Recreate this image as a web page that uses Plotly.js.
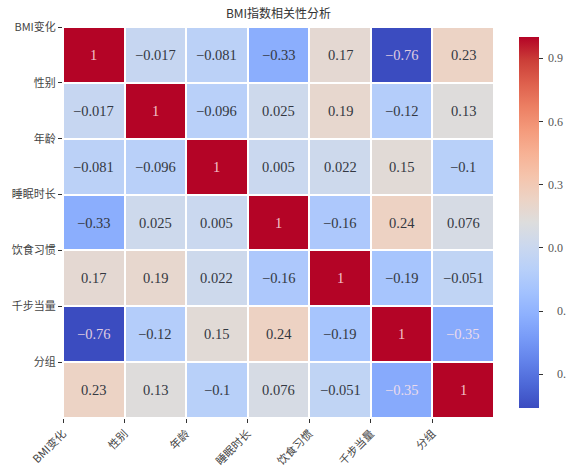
<!DOCTYPE html>
<html>
<head>
<meta charset="utf-8">
<script src="https://cdn.plot.ly/plotly-3.0.1.min.js"></script>
<style>
  html, body { margin: 0; padding: 0; background: #fff; }
  #chart { width: 567px; height: 468px; }
</style>
</head>
<body>
<div id="chart"></div>
<script>
// Variables in the correlation matrix
const labels = ['BMI变化', '性别', '年龄', '睡眠时长', '饮食习惯', '千步当量', '分组'];

// Pairwise correlation coefficients, one row per variable
const rowBMI    = [1, -0.017, -0.081, -0.33, 0.17, -0.76, 0.23];
const rowSex    = [-0.017, 1, -0.096, 0.025, 0.19, -0.12, 0.13];
const rowAge    = [-0.081, -0.096, 1, 0.005, 0.022, 0.15, -0.1];
const rowSleep  = [-0.33, 0.025, 0.005, 1, -0.16, 0.24, 0.076];
const rowDiet   = [0.17, 0.19, 0.022, -0.16, 1, -0.19, -0.051];
const rowSteps  = [-0.76, -0.12, 0.15, 0.24, -0.19, 1, -0.35];
const rowGroup  = [0.23, 0.13, -0.1, 0.076, -0.051, -0.35, 1];

// Colour bar tick values and their printed labels (negative ones lose their sign glyph)
const cbTickVals = [0.9, 0.6, 0.3, 0.0, -0.3, -0.6];
const cbTickText = ['\u00a00.9', '\u00a00.6', '\u00a00.3', '\u00a00.0',
  '\u00a0\u00a0\u00a0\u00a00.', '\u00a0\u00a0\u00a0\u00a00.'];

const z = [rowBMI, rowSex, rowAge, rowSleep, rowDiet, rowSteps, rowGroup];
const n = labels.length;
const idx = labels.map((_, i) => i);

// Diverging cool-warm palette
const coolwarm = ['#3b4cc0', '#4d68d7', '#6282ea', '#779af7', '#8db0fe', '#a3c2fe',
  '#b8d0f9', '#cbd8ee', '#dddddd', '#ecd3c5', '#f5c4ac', '#f7b194', '#f49a7b',
  '#ec7f63', '#de604d', '#cb3e38', '#b40426'];
const colorscale = coolwarm.map((c, i) => [i / (coolwarm.length - 1), c]);

const flat = z.flat();
const zmin = Math.min(...flat);
const zmax = Math.max(...flat);

function hexToRgb(h) {
  return [1, 3, 5].map(k => parseInt(h.slice(k, k + 2), 16));
}
function colourAt(v) {
  const t = (v - zmin) / (zmax - zmin);
  const p = t * (coolwarm.length - 1);
  const i = Math.min(Math.floor(p), coolwarm.length - 2);
  const f = p - i;
  const a = hexToRgb(coolwarm[i]), b = hexToRgb(coolwarm[i + 1]);
  return a.map((x, k) => x + (b[k] - x) * f);
}
function luminance(rgb) {
  const lin = rgb.map(c => {
    c /= 255;
    return c <= 0.03928 ? c / 12.92 : Math.pow((c + 0.055) / 1.055, 2.4);
  });
  return 0.2126 * lin[0] + 0.7152 * lin[1] + 0.0722 * lin[2];
}
function fmt(v) {
  return String(v).replace('-', '\u2212');
}

// Value labels inside each cell, light on dark cells, dark on light ones
const annotations = [];
z.forEach((row, r) => {
  row.forEach((v, c) => {
    const dark = luminance(colourAt(v)) < 0.415;
    annotations.push({
      x: c, y: r, xref: 'x', yref: 'y',
      text: fmt(v), showarrow: false,
      font: {
        family: '"Liberation Serif", "DejaVu Serif", serif',
        size: 14.5,
        color: dark ? 'rgba(255,228,232,0.85)' : '#333842'
      }
    });
  });
});

const trace = {
  type: 'heatmap',
  x: idx, y: idx, z: z,
  zmin: zmin, zmax: zmax,
  colorscale: colorscale,
  xgap: 2, ygap: 2,
  hoverinfo: 'skip',
  colorbar: {
    x: 1.035, xanchor: 'left', xref: 'paper',
    y: 0, yanchor: 'bottom', len: 1, lenmode: 'fraction',
    thickness: 20, outlinewidth: 0,
    tickmode: 'array', tickvals: cbTickVals, ticktext: cbTickText,
    ticks: 'outside', ticklen: 4, tickwidth: 1, tickcolor: '#333',
    tickfont: { family: '"Liberation Serif", "DejaVu Serif", serif', size: 12, color: '#555' }
  }
};

const edges = idx.map(i => i - 0.5);
const axisFont = { family: '"Noto Sans CJK SC", sans-serif', size: 11, color: '#444' };

const layout = {
  width: 567, height: 468,
  margin: { l: 63, r: 73, t: 27, b: 50, autoexpand: false },
  paper_bgcolor: '#fff', plot_bgcolor: '#fff',
  title: {
    text: 'BMI指数相关性分析',
    font: { family: '"Noto Sans CJK SC", sans-serif', size: 12, color: '#333' },
    x: 0.5, xref: 'paper', xanchor: 'center',
    y: 1 - 14 / 468, yref: 'container', yanchor: 'middle'
  },
  xaxis: {
    range: [-0.5, n - 0.5],
    tickmode: 'array', tickvals: edges, ticktext: labels,
    tickangle: -45, ticks: 'outside', ticklen: 4, tickcolor: '#333',
    tickfont: axisFont, automargin: false,
    showgrid: false, zeroline: false, showline: false, fixedrange: true
  },
  yaxis: {
    range: [n - 0.5, -0.5],
    tickmode: 'array', tickvals: edges, ticktext: labels,
    ticks: 'outside', ticklen: 4, tickcolor: '#333',
    tickfont: axisFont, automargin: false,
    showgrid: false, zeroline: false, showline: false, fixedrange: true
  },
  annotations: annotations,
  showlegend: false
};

Plotly.newPlot('chart', [trace], layout, { displayModeBar: false, staticPlot: true });
</script>
</body>
</html>
